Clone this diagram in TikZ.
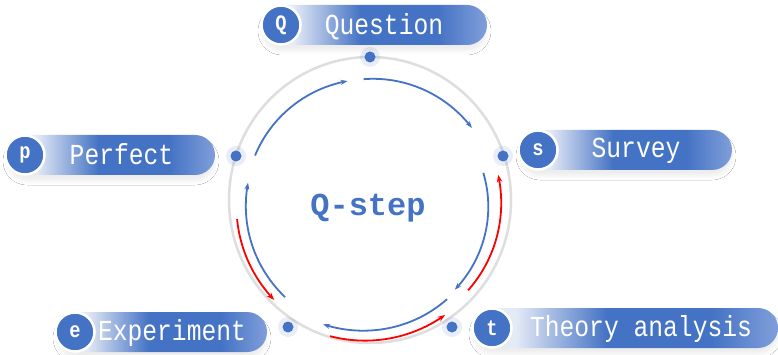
\documentclass[tikz,border=0pt]{standalone}
\usepackage{fontspec}
\setmainfont{Liberation Sans}
\newfontfamily\pillfont[FakeStretch=0.85]{Liberation Mono}
\newfontfamily\stepfont{Liberation Mono}
\usetikzlibrary{arrows.meta,shadows.blur}
\definecolor{qblue}{HTML}{4472C4}
\definecolor{pillL}{HTML}{E4EAF6}
\definecolor{pillR}{HTML}{809FDA}
\definecolor{ringgrey}{HTML}{DEDEDE}
\definecolor{qred}{HTML}{FF0000}
\pgfdeclarehorizontalshading{pillshade}{100bp}{color(0bp)=(pillL); color(25bp)=(pillL); color(32bp)=(pillL); color(47bp)=(qblue); color(64bp)=(qblue); color(75bp)=(pillR); color(100bp)=(pillR)}
% #1 style, #2 start angle, #3 end angle, #4 start radius, #5 end radius
\newcommand\qarc[5]{%
  \draw[#1] plot[domain=0:1, samples=41, variable=\s]
    ({370+(#4+(#5-#4)*\s)*cos(#2+(#3-#2)*\s)},
     {202-(#4+(#5-#4)*\s)*sin(#2+(#3-#2)*\s)});}
\begin{document}
\begin{tikzpicture}[x=1pt,y=-1pt,
  pill/.style={rounded corners=20pt, shading=pillshade, inner sep=0pt, minimum height=40pt,
     blur shadow={shadow xshift=0pt, shadow yshift=-6pt, shadow opacity=7, shadow blur radius=4pt}},
  badge/.style={circle, fill=qblue, draw=white, line width=2.5pt, minimum size=39pt, inner sep=0pt,
     text=white, font=\pillfont\bfseries\fontsize{22}{24}\selectfont},
  pilltext/.style={anchor=base, text=white, inner sep=0pt, font=\pillfont\fontsize{29}{30}\selectfont},
  dot/.style={circle, fill=qblue, minimum size=11pt, inner sep=0pt},
  halo/.style={circle, fill=qblue, opacity=0.12, minimum size=20pt, inner sep=0pt},
  bluearc/.style={draw=qblue, line width=1.8pt, -{Stealth[length=7pt,width=5pt]}},
  redarc/.style={draw=qred, line width=1.8pt, -{Stealth[length=7.5pt,width=5.5pt]}}
]
\useasboundingbox (0,0) rectangle (778,355);
\fill[white] (0,0) rectangle (778,355);

% ring
\draw[ringgrey, line width=2.5pt] (370,200) ellipse [x radius=141, y radius=143];

% arcs
\qarc{bluearc}{158}{100.5}{124}{123}
\qarc{bluearc}{93}{36}{123}{126}
\qarc{bluearc}{14.4}{-46}{117}{122}
\qarc{redarc}{-42}{12}{132}{131}
\qarc{bluearc}{-51.6}{-111}{124}{131}
\qarc{redarc}{-106.6}{-56.4}{140}{135.6}
\qarc{bluearc}{-131.8}{-189}{127.5}{123.5}
\qarc{redarc}{187.3}{225.6}{134}{137}

% dots
\foreach \n/\p in {dq/{(370,57)}, dp/{(236,156)}, ds/{(503,156)}, de/{(288,327)}, dt/{(452,327)}}{
  \node[halo] at \p {};
  \node[dot] (\n) at \p {};
}

% center label
\node[anchor=base, text=qblue, inner sep=0pt, font=\stepfont\bfseries\fontsize{32}{34}\selectfont] (qstep) at (368,215.5) {Q-step};

% pills
\node[pill, minimum width=225pt] (pq) at (374.5,25) {};
\node[pill, minimum width=208pt] (pp) at (111,155) {};
\node[pill, minimum width=212pt] (ps) at (626,150) {};
\node[pill, minimum width=210pt] (pe) at (162,332) {};
\node[pill, minimum width=305pt] (pt) at (625.5,328) {};

% badges
\node[badge] (bq) at (281,25) {Q};
\node[badge] (bp) at (25,155) {p};
\node[badge] (bs) at (538,150) {s};
\node[badge] (be) at (75,332) {e};
\node[badge] (bt) at (492,328) {t};

% pill texts
\node[pilltext] (tq) at (384,35) {Question};
\node[pilltext] (tp) at (121.5,164.5) {Perfect};
\node[pilltext] (ts) at (636,158) {Survey};
\node[pilltext] (te) at (172,340.5) {Experiment};
\node[pilltext] (tt) at (641,336.5) {Theory analysis};
\end{tikzpicture}
\end{document}
